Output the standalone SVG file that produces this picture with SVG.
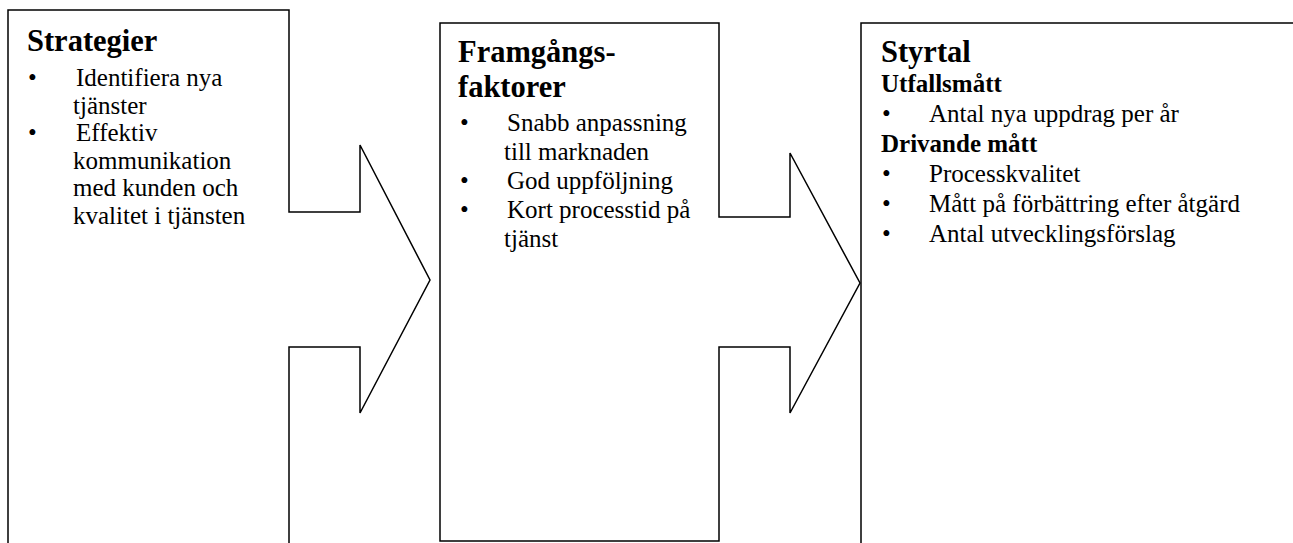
<svg xmlns="http://www.w3.org/2000/svg" width="1293" height="543" viewBox="0 0 1293 543">
  <style>
    .outline { fill: #fff; stroke: #000; stroke-width: 1.5; stroke-linejoin: miter; }
    .title { font-size: 30.5px; font-weight: bold; }
    .sub { font-size: 25px; font-weight: bold; }
    .body { font-size: 25px; }
  </style>
  <rect width="1293" height="543" fill="#fff"/>

  <!-- block outlines: each block carries an arrow pointing into the next one -->
  <g id="connectors">
    <path class="outline" d="M8,543 V10 H289 V212 H360 V145 L430,280 L360,413 V347 H289 V543"/>
    <path class="outline" d="M440,541 V23 H719 V217 H790 V153 L860,283 L790,413 V347 H719 V541 Z"/>
    <path class="outline" d="M861,543 V23 H1300"/>
  </g>

  <!-- Strategier -->
  <g id="strategier" font-family="'Liberation Serif', 'Times New Roman', serif" fill="#000">
    <text class="title" x="27" y="51">Strategier</text>
    <text class="body" x="28" y="86">•</text>
    <text class="body" x="76" y="86">Identifiera nya</text>
    <text class="body" x="73" y="114">tjänster</text>
    <text class="body" x="28" y="141">•</text>
    <text class="body" x="76" y="141">Effektiv</text>
    <text class="body" x="73" y="169">kommunikation</text>
    <text class="body" x="73" y="196">med kunden och</text>
    <text class="body" x="73" y="224">kvalitet i tjänsten</text>
  </g>

  <!-- Framgångsfaktorer -->
  <g id="framgangsfaktorer" font-family="'Liberation Serif', 'Times New Roman', serif" fill="#000">
    <text class="title" x="458" y="62">Framgångs-</text>
    <text class="title" x="458" y="97">faktorer</text>
    <text class="body" x="460" y="131">•</text>
    <text class="body" x="507" y="131">Snabb anpassning</text>
    <text class="body" x="504" y="160">till marknaden</text>
    <text class="body" x="460" y="189">•</text>
    <text class="body" x="507" y="189">God uppföljning</text>
    <text class="body" x="460" y="218">•</text>
    <text class="body" x="507" y="218">Kort processtid på</text>
    <text class="body" x="504" y="247">tjänst</text>
  </g>

  <!-- Styrtal -->
  <g id="styrtal" font-family="'Liberation Serif', 'Times New Roman', serif" fill="#000">
    <text class="title" x="881" y="62">Styrtal</text>
    <text class="sub" x="881" y="92">Utfallsmått</text>
    <text class="body" x="882" y="122">•</text>
    <text class="body" x="929" y="122">Antal nya uppdrag per år</text>
    <text class="sub" x="881" y="152">Drivande mått</text>
    <text class="body" x="882" y="182">•</text>
    <text class="body" x="929" y="182">Processkvalitet</text>
    <text class="body" x="882" y="212">•</text>
    <text class="body" x="929" y="212">Mått på förbättring efter åtgärd</text>
    <text class="body" x="882" y="242">•</text>
    <text class="body" x="929" y="242">Antal utvecklingsförslag</text>
  </g>
</svg>
